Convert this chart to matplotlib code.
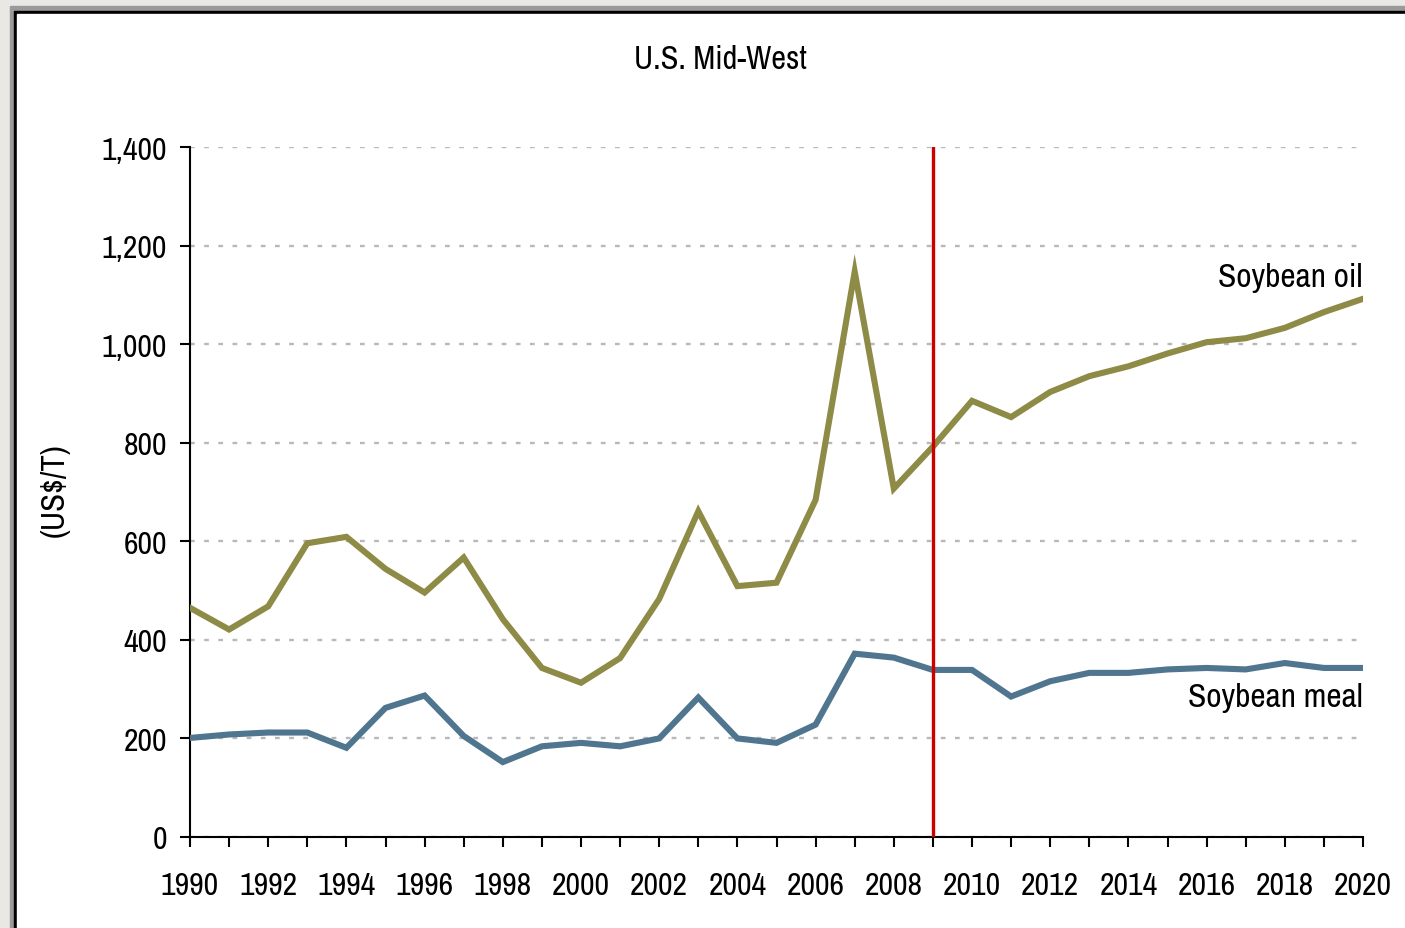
import matplotlib.pyplot as plt
from matplotlib.patches import Rectangle

years = list(range(1990, 2021))
soybean_oil = [465, 421, 468, 596, 609, 544, 496, 567, 442, 343, 313, 363, 483,
               661, 509, 516, 684, 1147, 707, 792, 885, 852, 903, 935, 955,
               981, 1004, 1012, 1033, 1065, 1092]
soybean_meal = [201, 208, 212, 212, 181, 262, 287, 205, 152, 184, 191, 184, 200,
                283, 200, 191, 228, 372, 364, 339, 339, 285, 316, 333, 333,
                340, 343, 340, 353, 343, 343]
marker_year = 2009
yticks = [0, 200, 400, 600, 800, 1000, 1200, 1400]

plt.rcParams['font.family'] = ['Archivo Narrow', 'Liberation Sans', 'DejaVu Sans']

W, H = 1405, 929
fig = plt.figure(figsize=(W / 100, H / 100), dpi=100)
fig.patch.set_facecolor('#e9e8e4')

# frame like a pasted screenshot: grey border, thin black line, white inside
def px_rect(x0, y0, color):
    fig.patches.append(Rectangle((x0 / W, 0), 1.2, (H - y0) / H,
                                 transform=fig.transFigure, color=color, zorder=-3))

px_rect(10, 7, '#9a9a9a')
px_rect(14, 12, 'black')
px_rect(17, 15, 'white')

ax = fig.add_axes([190 / W, 1 - 838 / H, (1363 - 190) / W, (838 - 148) / H])
ax.set_facecolor('none')

ax.plot(years, soybean_oil, color='#8e8b47', lw=4.4, solid_joinstyle='miter', zorder=3)
ax.plot(years, soybean_meal, color='#4f768e', lw=4.4, solid_joinstyle='miter', zorder=3)
ax.axvline(marker_year, color='#cc0000', lw=2.4, zorder=4)

ax.set_xlim(1990, 2020)
ax.set_ylim(0, 1400)
ax.set_xticks(years, minor=True)
ax.set_xticks(years[::2])
ax.set_yticks(yticks)
ax.set_yticklabels([f'{v:,}' for v in yticks])
ax.tick_params(axis='both', which='both', direction='out', length=7.5, width=1.5,
               labelsize=23, color='black')
ax.tick_params(axis='x', which='major', pad=17)
ax.tick_params(axis='y', pad=9)

ax.yaxis.grid(True, color='#b8b8b8', linestyle=(0, (2, 4)), lw=1.7)
ax.set_axisbelow(True)
for s in ['top', 'right']:
    ax.spines[s].set_visible(False)
for s in ['left', 'bottom']:
    ax.spines[s].set_linewidth(1.5)

ax.text(2020, 1137, 'Soybean oil', ha='right', va='center', fontsize=24)
ax.text(2020, 284, 'Soybean meal', ha='right', va='center', fontsize=24)

fig.text(720 / W, 1 - 60 / H, 'U.S. Mid-West', ha='center', va='center', fontsize=23.3)
fig.text(55 / W, 1 - 490 / H, '(US$/T)', ha='center', va='center', rotation=90, fontsize=23.5)

fig.savefig('out.png', dpi=100)
